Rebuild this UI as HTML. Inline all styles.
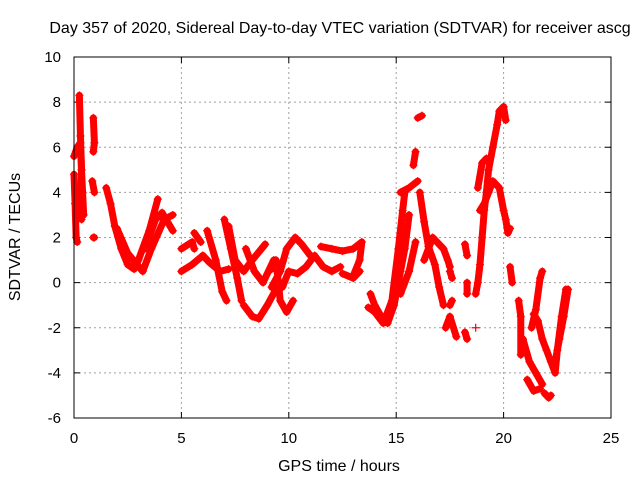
<!DOCTYPE html>
<html><head><meta charset="utf-8"><style>
body{margin:0;background:#fff}
svg text{font-family:"Liberation Sans",sans-serif;font-size:15px;fill:#000}
svg text.big{font-size:16px}
</style></head><body>
<svg id="chart" width="640" height="480">
<text class="big" x="340" y="33" text-anchor="middle">Day 357 of 2020, Sidereal Day-to-day VTEC variation (SDTVAR) for receiver ascg</text>
<g id="grid"></g><g id="series"></g>
<rect x="74" y="57" width="537" height="361" fill="none" stroke="#000"/>
<text class="big" x="339" y="471" text-anchor="middle">GPS time / hours</text>
<text class="big" transform="translate(20,237) rotate(-90)" text-anchor="middle">SDTVAR / TECUs</text>
</svg>
<script>
const xTicks=[0,5,10,15,20,25];
const yTicks=[-6,-4,-2,0,2,4,6,8,10];
const tracks=[
[[0,4.8],[0.05,3.5],[0.1,2.0],[0.15,1.8]],
[[0,5.6],[0.15,6.0],[0.3,6.2],[0.35,5.0],[0.3,3.0],[0.35,2.8]],
[[0.25,8.3],[0.3,6.5],[0.35,5],[0.4,4.0],[0.45,3.0]],
[[0.9,7.3],[0.95,6.2],[0.9,5.8]],
[[0.85,4.5],[0.95,4.0]],
[[0.9,2.0],[0.95,2.0]],
[[1.5,4.2],[1.7,3.5],[1.9,2.5],[2.2,1.5],[2.5,0.8],[2.8,0.6],[3.0,1.0],[3.5,2.3],[3.9,3.7]],
[[2.0,2.4],[2.5,1.3],[3.2,0.5],[3.6,1.5],[4.2,2.8],[4.6,3.0]],
[[3.3,1.5],[3.8,2.8],[4.1,3.1],[4.6,2.3]],
[[5,0.5],[5.5,0.8],[6,1.2]],
[[5,1.5],[5.5,1.8],[5.6,1.5]],
[[5.6,2.2],[5.9,1.8]],
[[6,1.2],[6.3,0.9],[6.8,0.5],[7.2,0.6]],
[[6.2,2.3],[6.6,1.0],[6.9,-0.4],[7.1,-0.8]],
[[7.0,2.8],[7.3,1.5],[7.6,0.2],[7.8,-0.8]],
[[7.2,2.5],[7.5,1.0],[7.9,0.5],[8.3,1.0],[8.9,1.7]],
[[7.9,-1.0],[8.3,-1.5],[8.6,-1.6],[9.0,-1.0],[9.4,-0.3]],
[[8,1.5],[8.4,0.5],[8.8,0.0],[9.3,1.0]],
[[9.2,0.6],[9.4,1.0],[9.6,-0.8],[9.9,-1.3],[10.2,-0.8]],
[[9.2,-0.2],[9.6,0.5],[9.9,1.5],[10.3,2.0],[10.6,1.7],[11,1.2]],
[[9.7,-0.2],[10.0,0.5],[10.4,0.4],[10.8,0.7],[11.2,1.2],[11.6,0.7],[12,0.5],[12.4,0.7]],
[[11.5,1.6],[12,1.5],[12.5,1.4],[13,1.5],[13.4,1.8],[13.3,1.0],[13,0.3]],
[[12.5,0.4],[13,0.2],[13.3,0.5]],
[[13.8,-0.5],[14.0,-1.0],[14.3,-1.5],[14.6,-1.8],[14.9,-1.0],[15.2,0.5],[15.4,1.5],[15.6,3.0]],
[[13.7,-1.1],[14,-1.3],[14.4,-1.8],[14.8,-0.8],[15.1,1.5],[15.3,3.2],[15.4,4.0]],
[[15.2,-0.5],[15.6,0.5],[15.9,1.8]],
[[15.2,4.0],[15.6,4.2],[16.0,4.5]],
[[15.8,5.2],[15.9,5.8]],
[[16.0,7.3],[16.2,7.4]],
[[16.1,4.0],[16.3,2.7],[16.5,1.6],[16.8,0.8],[17.0,-0.2],[17.2,-1.0]],
[[16.3,1.0],[16.7,2.0],[17.2,1.5],[17.4,1.0],[17.5,0.7]],
[[17.5,-1.0],[17.6,-0.8]],
[[17.5,0.5],[17.6,0.2]],
[[17.3,-2.0],[17.5,-1.5],[17.8,-2.4]],
[[18.2,1.7],[18.3,1.2]],
[[18.3,-0.5],[18.3,0]],
[[18.2,-2.2],[18.3,-2.5]],
[[18.7,-2.0]],
[[18.7,-0.5],[18.8,0.0],[18.9,0.8],[19,2.0],[19.1,3.2],[19.2,4.0],[19.3,5.0],[19.5,6.0],[19.7,7.0],[19.8,7.6],[20,7.8],[20.1,7.2]],
[[18.9,3.2],[19.1,3.5],[19.3,4.0],[19.5,4.5],[19.8,4.2],[20,3.2],[20.1,2.8],[20.2,2.2],[20.3,2.4]],
[[18.8,4.2],[19.0,5.3],[19.2,5.5]],
[[20.3,0.7],[20.4,0.0]],
[[20.7,-0.8],[20.8,-1.5],[20.8,-3.2]],
[[20.9,-2.5],[21.2,-3.5],[21.5,-4.0],[21.8,-4.5]],
[[21.1,-4.3],[21.4,-4.8],[21.7,-4.7]],
[[21.3,-2.0],[21.5,-1.2],[21.7,0.2],[21.8,0.5]],
[[21.4,-1.4],[21.6,-1.7],[21.8,-2.5],[22.0,-3.0],[22.2,-3.5],[22.4,-4.0],[22.5,-3.0],[22.7,-1.5],[22.9,-0.3]],
[[21.9,-4.9],[22.1,-5.1],[22.2,-5.0]],
[[22.4,-3.5],[22.6,-2.5],[22.8,-1.5],[23,-0.3]]
];
const NS="http://www.w3.org/2000/svg";
const X0=74,X1=611,Y0=418,Y1=57;
function xs(t){return X0+(t-0)/(25-0)*(X1-X0);}
function ys(v){return Y0-(v+6)/16*(Y0-Y1);}
function mk(tag,a,p){const e=document.createElementNS(NS,tag);for(const k in a)e.setAttribute(k,a[k]);p.appendChild(e);return e;}
const grid=document.getElementById('grid'),ser=document.getElementById('series'),svg=document.getElementById('chart');
xTicks.forEach(t=>{const x=xs(t);
 if(t>0&&t<25){const l=mk('line',{x1:x,x2:x,y1:Y1,y2:Y0,stroke:'#a0a0a0','stroke-dasharray':'2,3'},grid);
 
 }
 mk('line',{x1:x,x2:x,y1:Y0,y2:Y0-6,stroke:'#000'},grid);mk('line',{x1:x,x2:x,y1:Y1,y2:Y1+6,stroke:'#000'},grid);
 const tx=mk('text',{x:x,y:443,'text-anchor':'middle'},svg);tx.textContent=t;
 
 });
yTicks.forEach(v=>{const y=ys(v);
 if(v>-6&&v<10){const l=mk('line',{x1:X0,x2:X1,y1:y,y2:y,stroke:'#a0a0a0','stroke-dasharray':'2,3'},grid);
 
 }
 mk('line',{x1:X0,x2:X0+6,y1:y,y2:y,stroke:'#000'},grid);mk('line',{x1:X1,x2:X1-6,y1:y,y2:y,stroke:'#000'},grid);
 const tx=mk('text',{x:61,y:y+5,'text-anchor':'end'},svg);tx.textContent=v;
 
 });
tracks.forEach(tr=>{
 const g=mk('g',{},ser);
 
 
 const pts=tr.map(p=>xs(p[0])+','+ys(p[1])).join(' ');
 mk('polyline',{points:pts,fill:'none',stroke:'#f00','stroke-width':7,'stroke-linejoin':'round','stroke-linecap':'round'},g);
 tr.forEach(p=>{const x=xs(p[0]),y=ys(p[1]);
  mk('path',{d:`M${x-4},${y}H${x+4}M${x},${y-4}V${y+4}`,stroke:'#f00','stroke-width':1.2},g);});
});
</script>
</body></html>
